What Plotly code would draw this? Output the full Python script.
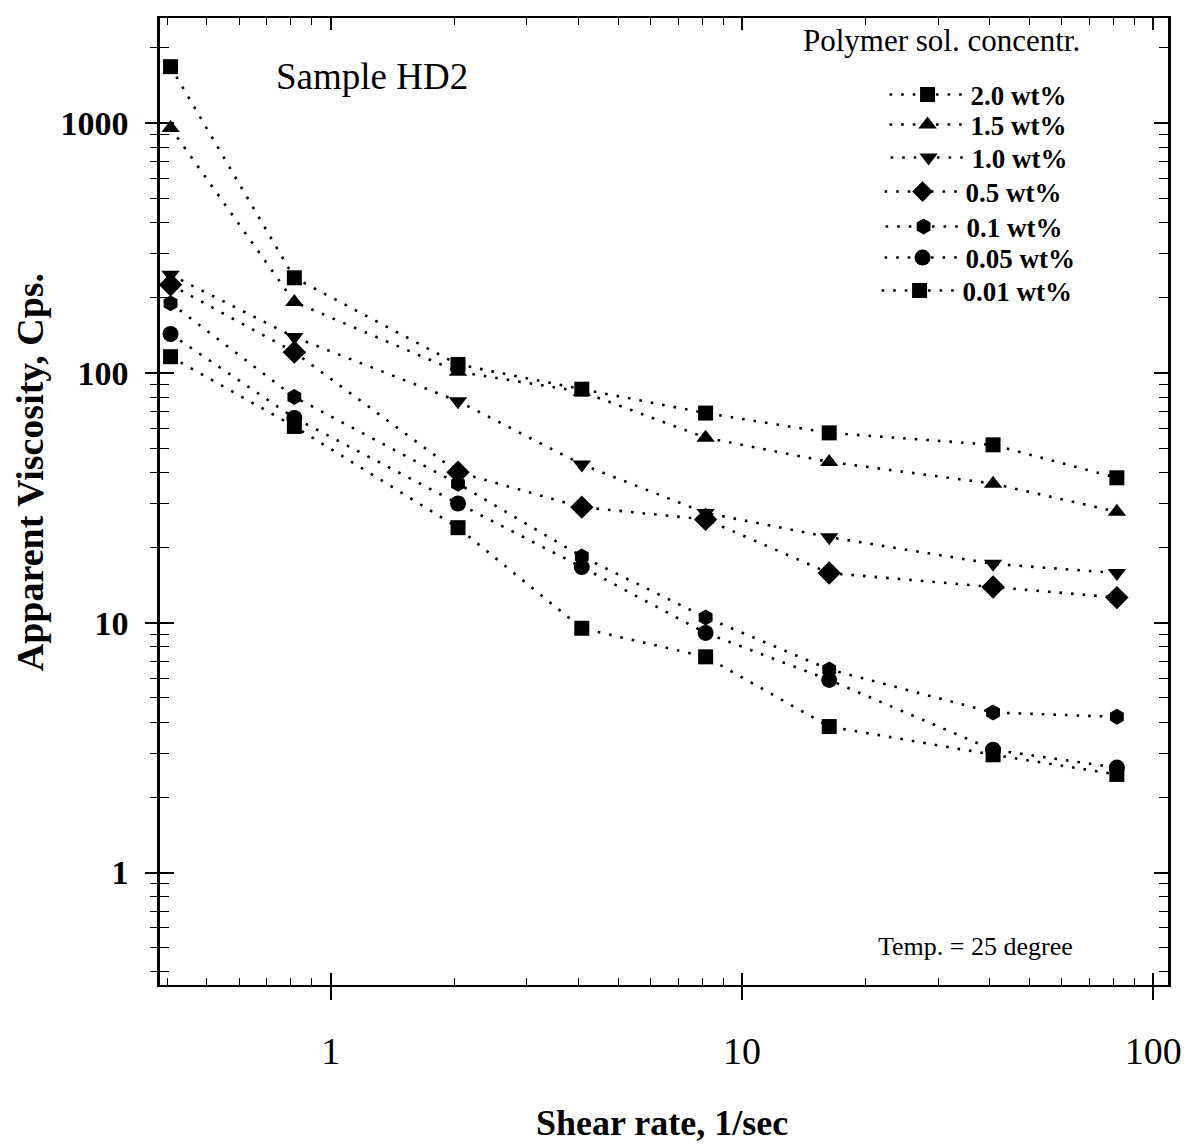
import plotly.graph_objects as go

# ---- data ----
shear_rate = [0.408, 0.816, 2.04, 4.08, 8.16, 16.3, 40.8, 81.6]
visc_2_0 = [1680, 240, 108, 86, 69, 57.5, 51.5, 38]
visc_1_5 = [955, 192, 101, 84, 55, 44, 36, 27.8]
visc_1_0 = [247, 139, 77, 43, 27.5, 22, 17.2, 15.8]
visc_0_5 = [225, 121, 40, 29, 25.9, 15.8, 13.9, 12.6]
visc_0_1 = [190, 80, 36, 18.4, 10.5, 6.5, 4.37, 4.2]
visc_0_05 = [143, 66, 30, 16.7, 9.1, 5.9, 3.1, 2.63]
visc_0_01 = [116, 61, 24, 9.5, 7.3, 3.84, 2.96, 2.47]

series_names = ["2.0 wt%", "1.5 wt%", "1.0 wt%", "0.5 wt%", "0.1 wt%", "0.05 wt%", "0.01 wt%"]
series_values = [visc_2_0, visc_1_5, visc_1_0, visc_0_5, visc_0_1, visc_0_05, visc_0_01]
series_symbols = ["square", "triangle-up", "triangle-down", "diamond", "hexagon", "circle", "square"]
series_sizes = [15, 16, 16, 18, 16, 16, 15]

x_major = [1, 10, 100]
x_minor = [0.4, 0.5, 0.6, 0.7, 0.8, 0.9, 2, 3, 4, 5, 6, 7, 8, 9, 20, 30, 40, 50, 60, 70, 80, 90]
y_major = [1, 10, 100, 1000]
y_minor = [0.4, 0.5, 0.6, 0.7, 0.8, 0.9, 2, 3, 4, 5, 6, 7, 8, 9, 20, 30, 40, 50, 60, 70, 80, 90,
           200, 300, 400, 500, 600, 700, 800, 900, 2000]

SERIF = "Liberation Serif"

# plot-area pixel box
W, H = 1194, 1146
L, R, T, B = 160, 1170, 18, 985


def px_x(p):
    return (p - L) / (R - L)


def px_y(p):
    return (B - p) / (B - T)


# legend entry placement (marker centre x, entry centre y) in pixels
legend_marker_x = [927, 927, 928, 922, 923, 922, 919]
legend_entry_y = [95, 125, 158, 192, 227, 258, 291]
ITEMW = 76

fig = go.Figure()
layout_legends = {}
for i, (name, vals, sym, sz) in enumerate(zip(series_names, series_values, series_symbols, series_sizes)):
    lname = "legend" if i == 0 else f"legend{i + 1}"
    fig.add_trace(go.Scatter(
        x=shear_rate, y=vals, name=name, mode="lines+markers", legend=lname,
        line=dict(color="black", width=2.6, dash="2.6px,9px"),
        marker=dict(symbol=sym, size=sz, color="black"),
    ))
    layout_legends[lname] = dict(
        x=px_x(legend_marker_x[i] - ITEMW / 2 - 3), y=px_y(legend_entry_y[i]),
        xanchor="left", yanchor="middle",
        font=dict(family=SERIF, size=27, color="black", weight="bold"),
        bgcolor="rgba(0,0,0,0)", itemwidth=ITEMW,
    )

# overlay axes for the outside half of the crossing ticks
fig.add_trace(go.Scatter(x=[], y=[], xaxis="x2", yaxis="y2", showlegend=False, hoverinfo="skip"))

xr = [-0.415, 2.036]
yr = [-0.45, 3.42]

fig.update_layout(
    width=W, height=H,
    margin=dict(l=L, r=W - R, t=T, b=H - B),
    paper_bgcolor="white", plot_bgcolor="white",
    showlegend=True,
    xaxis=dict(
        type="log", range=xr, showgrid=False, zeroline=False,
        showline=True, linecolor="black", linewidth=2, mirror="ticks",
        ticks="inside", ticklen=12, tickwidth=1.5, tickcolor="black",
        tickvals=x_major, ticktext=["1", "10", "100"],
        tickfont=dict(family=SERIF, size=38, color="black"),
        ticklabelstandoff=31,
        minor=dict(tickvals=x_minor, ticks="inside", ticklen=7, tickwidth=1.2, tickcolor="black"),
    ),
    yaxis=dict(
        type="log", range=yr, showgrid=False, zeroline=False,
        showline=True, linecolor="black", linewidth=2.5, mirror="ticks",
        ticks="inside", ticklen=14, tickwidth=1.5, tickcolor="black",
        tickvals=y_major, ticktext=["1", "10", "100", "1000"],
        tickfont=dict(family=SERIF, size=34, color="black", weight="bold"),
        ticklabelstandoff=22,
        minor=dict(tickvals=y_minor, ticks="inside", ticklen=9, tickwidth=1.2, tickcolor="black"),
    ),
    xaxis2=dict(
        type="log", range=xr, overlaying="x", anchor="y2", side="bottom",
        showgrid=False, zeroline=False, showline=False, showticklabels=False,
        ticks="outside", ticklen=14, tickwidth=1.5, tickcolor="black", tickvals=x_major,
    ),
    yaxis2=dict(
        type="log", range=yr, overlaying="y", anchor="x2", side="left",
        showgrid=False, zeroline=False, showline=False, showticklabels=False,
        ticks="outside", ticklen=14, tickwidth=1.5, tickcolor="black", tickvals=y_major,
        minor=dict(tickvals=y_minor, ticks="outside", ticklen=9, tickwidth=1.2, tickcolor="black"),
    ),
    **layout_legends,
)

# text labels, positioned in pixels and converted to paper coordinates
labels = [
    ("Sample HD2", 372, 77, dict(family=SERIF, size=37, color="black"), 0),
    ("Polymer sol. concentr.", 943, 40, dict(family=SERIF, size=31, color="black"), 0),
    ("Temp. = 25 degree", 977, 946, dict(family=SERIF, size=26, color="black"), 0),
    ("Shear rate, 1/sec", 663, 1123, dict(family=SERIF, size=36, color="black", weight="bold"), 0),
    ("Apparent Viscosity, Cps.", 30, 472, dict(family=SERIF, size=38, color="black", weight="bold"), -90),
]
for text, lx, ly, font, ang in labels:
    fig.add_annotation(text=text, x=px_x(lx), y=px_y(ly), xref="paper", yref="paper",
                       xanchor="center", yanchor="middle", showarrow=False,
                       font=font, textangle=ang)

fig.write_html(
    "out.html",
    config={"displayModeBar": False},
    post_script="document.body.style.margin='0';document.body.style.overflow='hidden';",
)
